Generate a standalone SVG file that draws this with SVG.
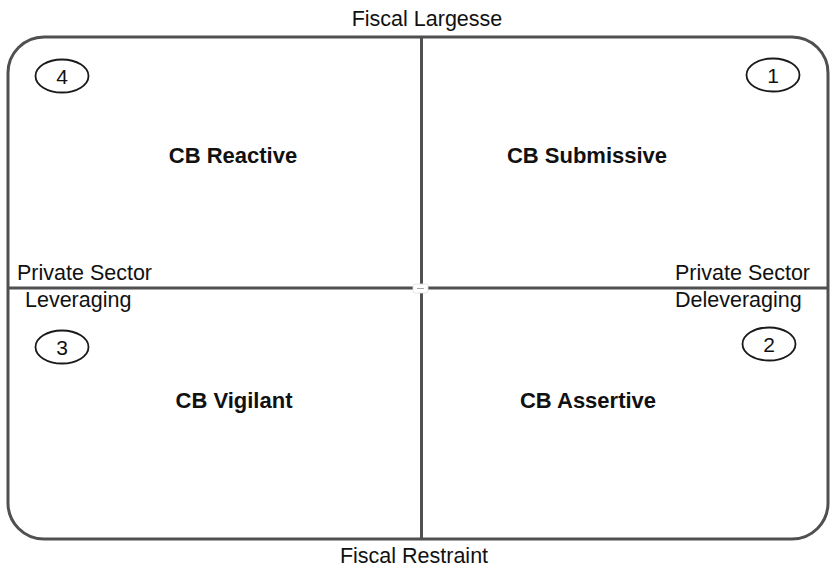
<svg xmlns="http://www.w3.org/2000/svg" width="831" height="571" viewBox="0 0 831 571">
  <style>
    .frame { fill: none; stroke: #505050; stroke-width: 3; }
    .axis { stroke: #505050; stroke-width: 3; }
    .badge { fill: #fff; stroke: #1a1a1a; stroke-width: 1.8; }
    .num { font-family: "Liberation Sans", Arial, sans-serif; font-size: 21px; fill: #111; text-anchor: middle; }
    .lbl { font-family: "Liberation Sans", Arial, sans-serif; font-size: 21.5px; fill: #111; }
    .quad { font-family: "Liberation Sans", Arial, sans-serif; font-size: 22px; font-weight: bold; fill: #111; text-anchor: middle; }
  </style>
  <rect width="831" height="571" fill="#fff"/>

  <!-- outer frame and axes -->
  <g id="connectors">
    <rect class="frame" x="8" y="37" width="820" height="502" rx="36" ry="36"/>
    <line class="axis" x1="421.5" y1="37" x2="421.5" y2="539"/>
    <line class="axis" x1="8" y1="288" x2="828" y2="288"/>
    <rect x="413" y="284" width="15" height="9" rx="2" fill="#fff" stroke="#ddd" stroke-width="0.8"/>
    <line x1="417" y1="288.5" x2="424" y2="288.5" stroke="#aaa" stroke-width="1"/>
  </g>

  <!-- axis labels -->
  <g id="top-label"><text class="lbl" x="427" y="26" text-anchor="middle">Fiscal Largesse</text></g>
  <g id="bottom-label"><text class="lbl" x="414" y="563" text-anchor="middle">Fiscal Restraint</text></g>
  <g id="left-label">
    <text class="lbl" x="17" y="280">Private Sector</text>
    <text class="lbl" x="25" y="307">Leveraging</text>
  </g>
  <g id="right-label">
    <text class="lbl" x="675" y="280">Private Sector</text>
    <text class="lbl" x="675" y="307">Deleveraging</text>
  </g>

  <!-- quadrants -->
  <g id="q1">
    <ellipse class="badge" cx="773" cy="75" rx="26.5" ry="16.5"/>
    <text class="num" x="773" y="82.5">1</text>
    <text class="quad" x="587" y="163">CB Submissive</text>
  </g>
  <g id="q2">
    <ellipse class="badge" cx="769" cy="344" rx="26.5" ry="16.5"/>
    <text class="num" x="769" y="351.5">2</text>
    <text class="quad" x="588" y="408">CB Assertive</text>
  </g>
  <g id="q3">
    <ellipse class="badge" cx="62" cy="347" rx="26.5" ry="16.5"/>
    <text class="num" x="62" y="354.5">3</text>
    <text class="quad" x="234" y="408">CB Vigilant</text>
  </g>
  <g id="q4">
    <ellipse class="badge" cx="62" cy="76" rx="26.5" ry="16.5"/>
    <text class="num" x="62" y="83.5">4</text>
    <text class="quad" x="233" y="163">CB Reactive</text>
  </g>
</svg>
